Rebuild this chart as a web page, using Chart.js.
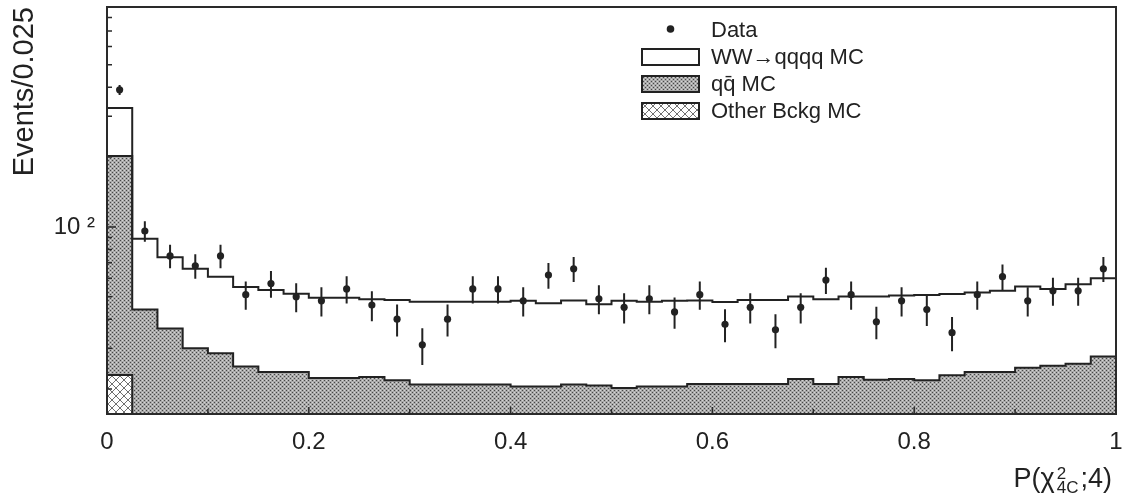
<!DOCTYPE html>
<html>
<head>
<meta charset="utf-8">
<script src="https://cdn.jsdelivr.net/npm/chart.js@4.4.1/dist/chart.umd.min.js"></script>
<style>
    html, body { margin: 0; padding: 0; background: #fff; }
    #container { position: relative; width: 1124px; height: 499px; font-family: 'Liberation Sans', Arial, sans-serif; color: #222; }
    #grafico { position: absolute; left: 0; top: 0; }
    #legenda { position: absolute; left: 641px; top: 16px; font-size: 22px; }
    #legenda .item { display: flex; align-items: center; height: 27px; }
    #legenda canvas { margin-right: 11px; }
    #titulo-x { position: absolute; right: 12px; top: 465px; font-size: 27px; line-height: 27px; white-space: nowrap; }
    #titulo-x .pilha { display: inline-block; vertical-align: -6px; font-size: 17px; line-height: 14px; margin: 0 2px; }
    #titulo-x .pilha span { display: block; }
</style>
</head>
<body>
<div id="container">
    <canvas id="grafico" width="1124" height="499"></canvas>
    <div id="legenda">
        <div class="item"><canvas id="leg-dados" width="59" height="18"></canvas><span>Data</span></div>
        <div class="item"><canvas id="leg-ww" width="59" height="18"></canvas><span>WW→qqqq MC</span></div>
        <div class="item"><canvas id="leg-qq" width="59" height="18"></canvas><span>qq̄ MC</span></div>
        <div class="item"><canvas id="leg-outros" width="59" height="18"></canvas><span>Other Bckg MC</span></div>
    </div>
    <div id="titulo-x">P(χ<span class="pilha"><span>2</span><span>4C</span></span>;4)</div>
</div>
<script>
// histograma em bins de 0.025 entre 0 e 1 (40 bins)
const binLargura = 0.025

const dados = [390, 96, 75, 68, 75, 51, 57, 50, 48, 54, 46, 40, 31, 40, 54, 54, 48, 62, 66, 49,
    45, 49, 43, 51, 38, 45, 36, 45, 59, 51, 39, 48, 44, 35, 51, 61, 48, 53, 53, 66]
const errosDados = [19.7, 9.8, 8.7, 8.2, 8.7, 7.1, 7.5, 7.1, 6.9, 7.3, 6.8, 6.3, 5.6, 6.3, 7.3, 7.3, 6.9, 7.9, 8.1, 7.0,
    6.7, 7.0, 6.6, 7.1, 6.2, 6.7, 6.0, 6.7, 7.7, 7.1, 6.2, 6.9, 6.6, 5.9, 7.1, 7.8, 6.9, 7.3, 7.3, 8.1]
// WW->qqqq MC (soma empilhada)
const mcWW = [326, 89, 74, 66, 61, 55, 53.5, 51.5, 49.5, 49.5, 48.8, 48.4, 47.5, 47.5, 47.6, 47.6, 48.0, 46.9, 48.2, 46.4,
    48.0, 47.6, 48.0, 48.2, 47.4, 48.4, 48.4, 50.1, 48.8, 50.1, 50.1, 50.6, 50.9, 51.4, 52.1, 53.1, 55.3, 54.0, 56.6, 60.1]
// qq MC (soma empilhada)
const mcQQ = [202, 44, 36.5, 30.0, 28.5, 25.0, 23.7, 23.7, 22.3, 22.3, 22.5, 21.8, 20.9, 20.9, 20.9, 20.9, 20.5, 20.5, 20.9, 20.7,
    20.2, 20.5, 20.5, 21.0, 21.0, 21.0, 21.0, 22.1, 21.0, 22.5, 21.9, 22.1, 21.8, 22.9, 23.7, 23.7, 24.7, 25.2, 25.7, 27.6]
// outros fundos: so aparece no primeiro bin, o resto fica abaixo do eixo
const mcOutros = [23, null, null, null, null, null, null, null, null, null, null, null, null, null, null, null, null, null, null, null,
    null, null, null, null, null, null, null, null, null, null, null, null, null, null, null, null, null, null, null, null]

const yMin = 15.6
const yMax = 888
const yTicks = [20, 30, 40, 50, 60, 70, 80, 90, 100, 200, 300, 400, 500, 600, 700, 800]
const xTicks = [0, 0.1, 0.2, 0.3, 0.4, 0.5, 0.6, 0.7, 0.8, 0.9, 1]
const xTickLabels = ['0', '', '0.2', '', '0.4', '', '0.6', '', '0.8', '', '1']

// contorno em degraus; quando o bin seguinte esta vazio fecha a caixa ate o fundo do eixo
function degraus(valores) {
    const pontos = []
    valores.forEach((v, i) => {
        if (v === null) return
        pontos.push({ x: i * binLargura, y: v })
        pontos.push({ x: (i + 1) * binLargura, y: v })
        if (i + 1 < valores.length && valores[i + 1] === null) {
            pontos.push({ x: (i + 1) * binLargura, y: yMin })
            pontos.push({ x: (i + 1) * binLargura, y: null })
        }
    })
    return pontos
}

function barrasErro(valores, erros) {
    const pontos = []
    valores.forEach((v, i) => {
        const centro = (i + 0.5) * binLargura
        pontos.push({ x: centro, y: v - erros[i] }, { x: centro, y: v + erros[i] }, { x: centro, y: null })
    })
    return pontos
}

function padraoQQ(ctx) {
    const tile = document.createElement('canvas')
    tile.width = 4
    tile.height = 4
    const g = tile.getContext('2d')
    g.fillStyle = '#a9a9a9'
    g.fillRect(0, 0, 4, 4)
    g.fillStyle = '#474747'
    g.fillRect(0, 0, 1, 1)
    g.fillRect(2, 2, 1, 1)
    g.fillStyle = '#d6d6d6'
    g.fillRect(2, 0, 1, 1)
    g.fillRect(0, 2, 1, 1)
    return ctx.createPattern(tile, 'repeat')
}

function padraoOutros(ctx) {
    const tile = document.createElement('canvas')
    tile.width = 8
    tile.height = 8
    const g = tile.getContext('2d')
    g.fillStyle = '#fff'
    g.fillRect(0, 0, 8, 8)
    g.strokeStyle = '#707070'
    g.lineWidth = 1
    g.beginPath()
    g.moveTo(0, 0); g.lineTo(8, 8)
    g.moveTo(8, 0); g.lineTo(0, 8)
    g.stroke()
    return ctx.createPattern(tile, 'repeat')
}

// moldura e ticks para dentro, estilo PAW
const moldura = {
    id: 'moldura',
    afterDatasetsDraw(chart) {
        const { ctx, chartArea: a, scales } = chart
        ctx.save()
        ctx.strokeStyle = '#2a2a2a'
        ctx.lineWidth = 1.5
        ctx.beginPath()
        scales.y.ticks.forEach(t => {
            const py = scales.y.getPixelForValue(t.value)
            const len = t.value === 100 ? 9 : 5
            ctx.moveTo(a.left, py)
            ctx.lineTo(a.left + len, py)
        })
        scales.x.ticks.forEach((t, i) => {
            const px = scales.x.getPixelForValue(t.value)
            const len = xTickLabels[i] ? 7 : 5
            ctx.moveTo(px, a.bottom)
            ctx.lineTo(px, a.bottom - len)
        })
        ctx.stroke()
        ctx.lineWidth = 2
        ctx.strokeRect(a.left, a.top, a.right - a.left, a.bottom - a.top)
        ctx.restore()
    }
}

const canvas = document.getElementById('grafico')
const ctx = canvas.getContext('2d')
const corLinha = '#222'

const config = {
    type: 'line',
    data: {
        datasets: [
            {
                label: 'Data',
                type: 'scatter',
                data: dados.map((v, i) => ({ x: (i + 0.5) * binLargura, y: v })),
                pointRadius: 3.6,
                pointBackgroundColor: corLinha,
                pointBorderWidth: 0,
                order: 0
            },
            {
                label: 'erros',
                data: barrasErro(dados, errosDados),
                borderColor: corLinha,
                borderWidth: 2,
                pointRadius: 0,
                spanGaps: false,
                order: 1
            },
            {
                label: 'WW→qqqq MC',
                data: degraus(mcWW),
                borderColor: corLinha,
                borderWidth: 2,
                pointRadius: 0,
                fill: false,
                order: 2
            },
            {
                label: 'Other Bckg MC',
                data: degraus(mcOutros),
                borderColor: corLinha,
                borderWidth: 2,
                pointRadius: 0,
                spanGaps: false,
                fill: 'start',
                backgroundColor: padraoOutros(ctx),
                order: 3
            },
            {
                label: 'qq̄ MC',
                data: degraus(mcQQ),
                borderColor: corLinha,
                borderWidth: 2,
                pointRadius: 0,
                fill: 'start',
                backgroundColor: padraoQQ(ctx),
                order: 4
            }
        ]
    },
    options: {
        responsive: false,
        animation: false,
        devicePixelRatio: 1,
        layout: { padding: { top: 7, right: 8, bottom: 0, left: 0 } },
        plugins: {
            legend: { display: false },
            tooltip: { enabled: false }
        },
        scales: {
            x: {
                type: 'linear',
                min: 0,
                max: 1,
                grid: { display: false, drawTicks: false },
                border: { display: false },
                afterBuildTicks: eixo => { eixo.ticks = xTicks.map(v => ({ value: v })) },
                afterFit: eixo => {
                    eixo.height = 85
                    eixo.paddingLeft = 0
                    eixo.paddingRight = 0
                },
                ticks: {
                    autoSkip: false,
                    maxRotation: 0,
                    padding: 14,
                    color: corLinha,
                    font: { family: "'Liberation Sans', Arial, sans-serif", size: 24 },
                    callback: (v, i) => xTickLabels[i]
                }
            },
            y: {
                type: 'logarithmic',
                min: yMin,
                max: yMax,
                grid: { display: false, drawTicks: false },
                border: { display: false },
                afterBuildTicks: eixo => { eixo.ticks = yTicks.map(v => ({ value: v })) },
                afterFit: eixo => {
                    eixo.width = 107
                    eixo.paddingTop = 0
                    eixo.paddingBottom = 0
                },
                ticks: {
                    autoSkip: false,
                    padding: 12,
                    color: corLinha,
                    font: { family: "'Liberation Sans', Arial, sans-serif", size: 24 },
                    callback: v => (v === 100 ? '10 ²' : '')
                },
                title: {
                    display: true,
                    text: 'Events/0.025',
                    align: 'end',
                    color: corLinha,
                    padding: { top: 8, bottom: 0 },
                    font: { family: "'Liberation Sans', Arial, sans-serif", size: 29 }
                }
            }
        }
    },
    plugins: [moldura]
}

const grafico = new Chart(canvas, config)

// legenda desenhada a parte, dentro da area do grafico
function desenharLegenda(id, tipo) {
    const c = document.getElementById(id)
    const g = c.getContext('2d')
    g.strokeStyle = corLinha
    g.lineWidth = 2
    if (tipo === 'ponto') {
        g.fillStyle = corLinha
        g.beginPath()
        g.arc(c.width / 2, 8, 3.8, 0, Math.PI * 2)
        g.fill()
        return
    }
    if (tipo === 'qq') g.fillStyle = padraoQQ(g)
    else if (tipo === 'outros') g.fillStyle = padraoOutros(g)
    else g.fillStyle = '#fff'
    g.fillRect(1, 1, c.width - 2, c.height - 2)
    g.strokeRect(1, 1, c.width - 2, c.height - 2)
}

desenharLegenda('leg-dados', 'ponto')
desenharLegenda('leg-ww', 'ww')
desenharLegenda('leg-qq', 'qq')
desenharLegenda('leg-outros', 'outros')
</script>
</body>
</html>
